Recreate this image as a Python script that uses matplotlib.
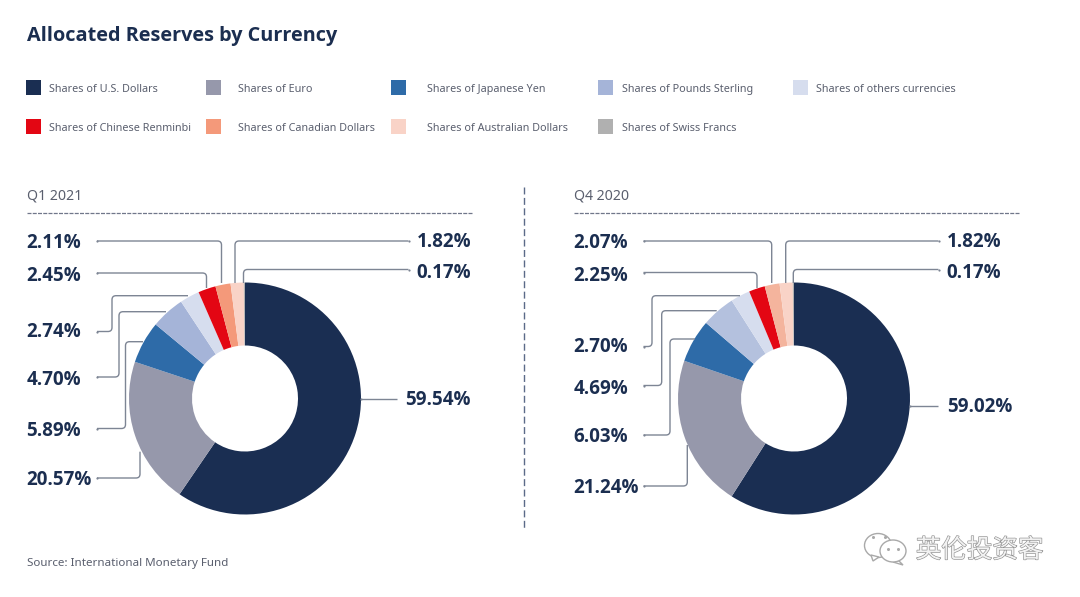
import matplotlib
matplotlib.use("Agg")
import matplotlib.pyplot as plt
from matplotlib.path import Path
from matplotlib.patches import PathPatch, Rectangle, Ellipse, Polygon
import matplotlib.patheffects as pe

plt.rcParams['font.family'] = ['Noto Sans', 'DejaVu Sans']
BOLD_FONT = ['Open Sans', 'Noto Sans', 'DejaVu Sans']

W, H = 1080, 597

title = "Allocated Reserves by Currency"
source = "Source: International Monetary Fund"
watermark = "英伦投资客"

currencies = ["Shares of U.S. Dollars", "Shares of Euro", "Shares of Japanese Yen",
              "Shares of Pounds Sterling", "Shares of others currencies",
              "Shares of Chinese Renminbi", "Shares of Canadian Dollars",
              "Shares of Australian Dollars", "Shares of Swiss Francs"]
colors = ["#1a2e52", "#9698ab", "#2e6ba8", "#a5b4d8", "#d6ddee",
          "#e30613", "#f4997a", "#f9d3c7", "#b0b0b0"]
colors_q4 = ["#1a2e52", "#9698ab", "#2e6ba8", "#b4c1de", "#d6ddee",
             "#e30613", "#f4b49d", "#f9d3c7", "#b0b0b0"]

q1_2021 = [59.54, 20.57, 5.89, 4.70, 2.74, 2.45, 2.11, 1.82, 0.17]
q4_2020 = [59.02, 21.24, 6.03, 4.69, 2.70, 2.25, 2.07, 1.82, 0.17]

NAVY = "#1b2e50"
GREY = "#5a5f6e"
LINE = "#7d8594"

fig = plt.figure(figsize=(W / 100, H / 100), dpi=100, facecolor="white")
ov = fig.add_axes([0, 0, 1, 1], zorder=5)
ov.set_xlim(0, W)
ov.set_ylim(H, 0)
ov.axis("off")


def donut(values, pie_colors, cx, cy, r, hole):
    ax = fig.add_axes([(cx - r) / W, 1 - (cy + r) / H, 2 * r / W, 2 * r / H], zorder=1)
    ax.pie(values, colors=pie_colors, startangle=90, counterclock=False, radius=1,
           wedgeprops=dict(width=1 - hole / r, linewidth=0))
    ax.set_xlim(-1, 1)
    ax.set_ylim(-1, 1)
    ax.axis("off")


donut(q1_2021, colors, 245, 398.5, 116, 53)
donut(q4_2020, colors_q4, 794, 398.5, 116, 53)


def leader(pts):
    """Polyline with small rounded corners, in pixel space."""
    rad = 4
    verts = [pts[0]]
    codes = [Path.MOVETO]
    for i in range(1, len(pts) - 1):
        p0, p1, p2 = pts[i - 1], pts[i], pts[i + 1]

        def toward(a, b):
            dx, dy = b[0] - a[0], b[1] - a[1]
            d = (dx ** 2 + dy ** 2) ** 0.5
            return (a[0] + dx / d * rad, a[1] + dy / d * rad)
        verts += [toward(p1, p0), p1, toward(p1, p2)]
        codes += [Path.LINETO, Path.CURVE3, Path.CURVE3]
    verts.append(pts[-1])
    codes.append(Path.LINETO)
    ov.add_patch(PathPatch(Path(verts, codes), fill=False, edgecolor=LINE, lw=1.0))
    ov.plot([pts[0][0]], [pts[0][1]], marker="o", ms=1.6, color=LINE, mew=0)


def labels(values, layout):
    for v, (tx, ty) in zip(values, layout):
        ov.text(tx - 0.5, ty + 1.5, f"{v:.2f}%", fontsize=13.5, fontweight="bold", color=NAVY,
                family=BOLD_FONT, ha="left", va="center")


# title
ov.text(27, 35.5, title, fontsize=14.3, fontweight="bold", color=NAVY, family=BOLD_FONT,
        ha="left", va="center")

# legend
swatch_x = [26, 206, 391, 598, 793]
text_x = [49, 237.5, 427, 621.5, 816.5]
swatch_y = [87.5, 126]
base_y = [92, 130.7]
swatch_w = [15, 14.5, 14.5, 15, 15]
for i, name in enumerate(currencies):
    row = 0 if i < 5 else 1
    col = i if i < 5 else i - 5
    ov.add_patch(Rectangle((swatch_x[col], swatch_y[row] - 7.5), swatch_w[col], 15,
                           facecolor=colors[i], edgecolor="none"))
    ov.text(text_x[col], base_y[row], name, fontsize=7.8, color=GREY, ha="left", va="baseline")

# panel headers and separators
ov.text(27, 196, "Q1 2021", fontsize=10.2, color=GREY, ha="left", va="center")
ov.text(574.5, 196, "Q4 2020", fontsize=10.2, color=GREY, ha="left", va="center")
ov.plot([27, 472], [213, 213], color="#70778a", lw=0.9, ls=(0, (3.2, 1)))
ov.plot([574, 1020], [213, 213], color="#70778a", lw=0.9, ls=(0, (3.2, 1)))
ov.plot([524, 524], [187, 528], color="#5b6a88", lw=1.0, ls=(0, (5, 2.5)))

# Q1 2021 leaders
for pts in [
    [(361, 399), (397, 399)],
    [(243.5, 283), (243.5, 269.5), (408.5, 269.5)][::-1],
    [(235, 283), (235, 241), (408.5, 241)][::-1],
    [(97, 241), (221.5, 241), (221.5, 283)],
    [(97, 273), (206.5, 273), (206.5, 288)],
    [(97, 331.5), (112, 331.5), (112, 295.7), (188, 295.7)],
    [(97, 377), (119, 377), (119, 311.7), (166, 311.7)],
    [(97, 428.5), (125.5, 428.5), (125.5, 341.7), (143, 341.7)],
    [(97, 478), (140, 478), (140, 451.7)],
]:
    leader(pts)

# Q4 2020 leaders
for pts in [
    [(910, 406), (938, 406)],
    [(793.3, 283), (793.3, 269.5), (938.5, 269.5)][::-1],
    [(785.7, 283), (785.7, 241), (938.5, 241)][::-1],
    [(643.5, 241), (771.7, 241), (771.7, 283)],
    [(643.5, 272.5), (757, 272.5), (757, 288)],
    [(643.5, 346.5), (652, 346.5), (652, 295.7), (740, 295.7)],
    [(643.5, 385.5), (661.7, 385.5), (661.7, 310.7), (716.7, 310.7)],
    [(643.5, 435), (670, 435), (670, 339), (695, 339)],
    [(643.5, 486), (687.3, 486), (687.3, 445)],
]:
    leader(pts)

labels(q1_2021, [(406, 398.5), (27, 478.5), (27, 430), (27, 378.5), (27, 330.5),
                 (27, 274.5), (27, 241), (417, 240.5), (417, 271)])
labels(q4_2020, [(948, 405.5), (574, 486.5), (574, 436), (574, 387), (574, 345.5),
                 (574, 274.5), (574, 241), (947, 240.5), (947, 271)])

# source
ov.text(27, 563.5, source, fontsize=8.35, color=GREY, ha="left", va="center")

# watermark
wm = dict(facecolor="white", edgecolor="#a9a9a9", lw=1.0)
ov.add_patch(Ellipse((878, 545.5), 27, 24, **wm))
ov.add_patch(Polygon([(871, 555), (873, 561), (879, 557)], closed=True, **wm))
ov.add_patch(Polygon([(898, 560), (903, 565), (893, 562)], closed=True, **wm))
ov.add_patch(Ellipse((893, 551), 26, 22, **wm))
for x, y in [(873, 537), (885, 537), (888, 549), (898, 549)]:
    ov.plot([x], [y], marker="o", ms=2.2, color="#a9a9a9", mew=0)
ov.text(979.5, 550.5, watermark, fontsize=18.4, family=["Noto Sans CJK SC", "DejaVu Sans"],
        color="#f2f2f2", ha="center", va="center",
        path_effects=[pe.withStroke(linewidth=0.9, foreground="#8f8f8f")])

fig.savefig("out.png", dpi=100, facecolor="white")
